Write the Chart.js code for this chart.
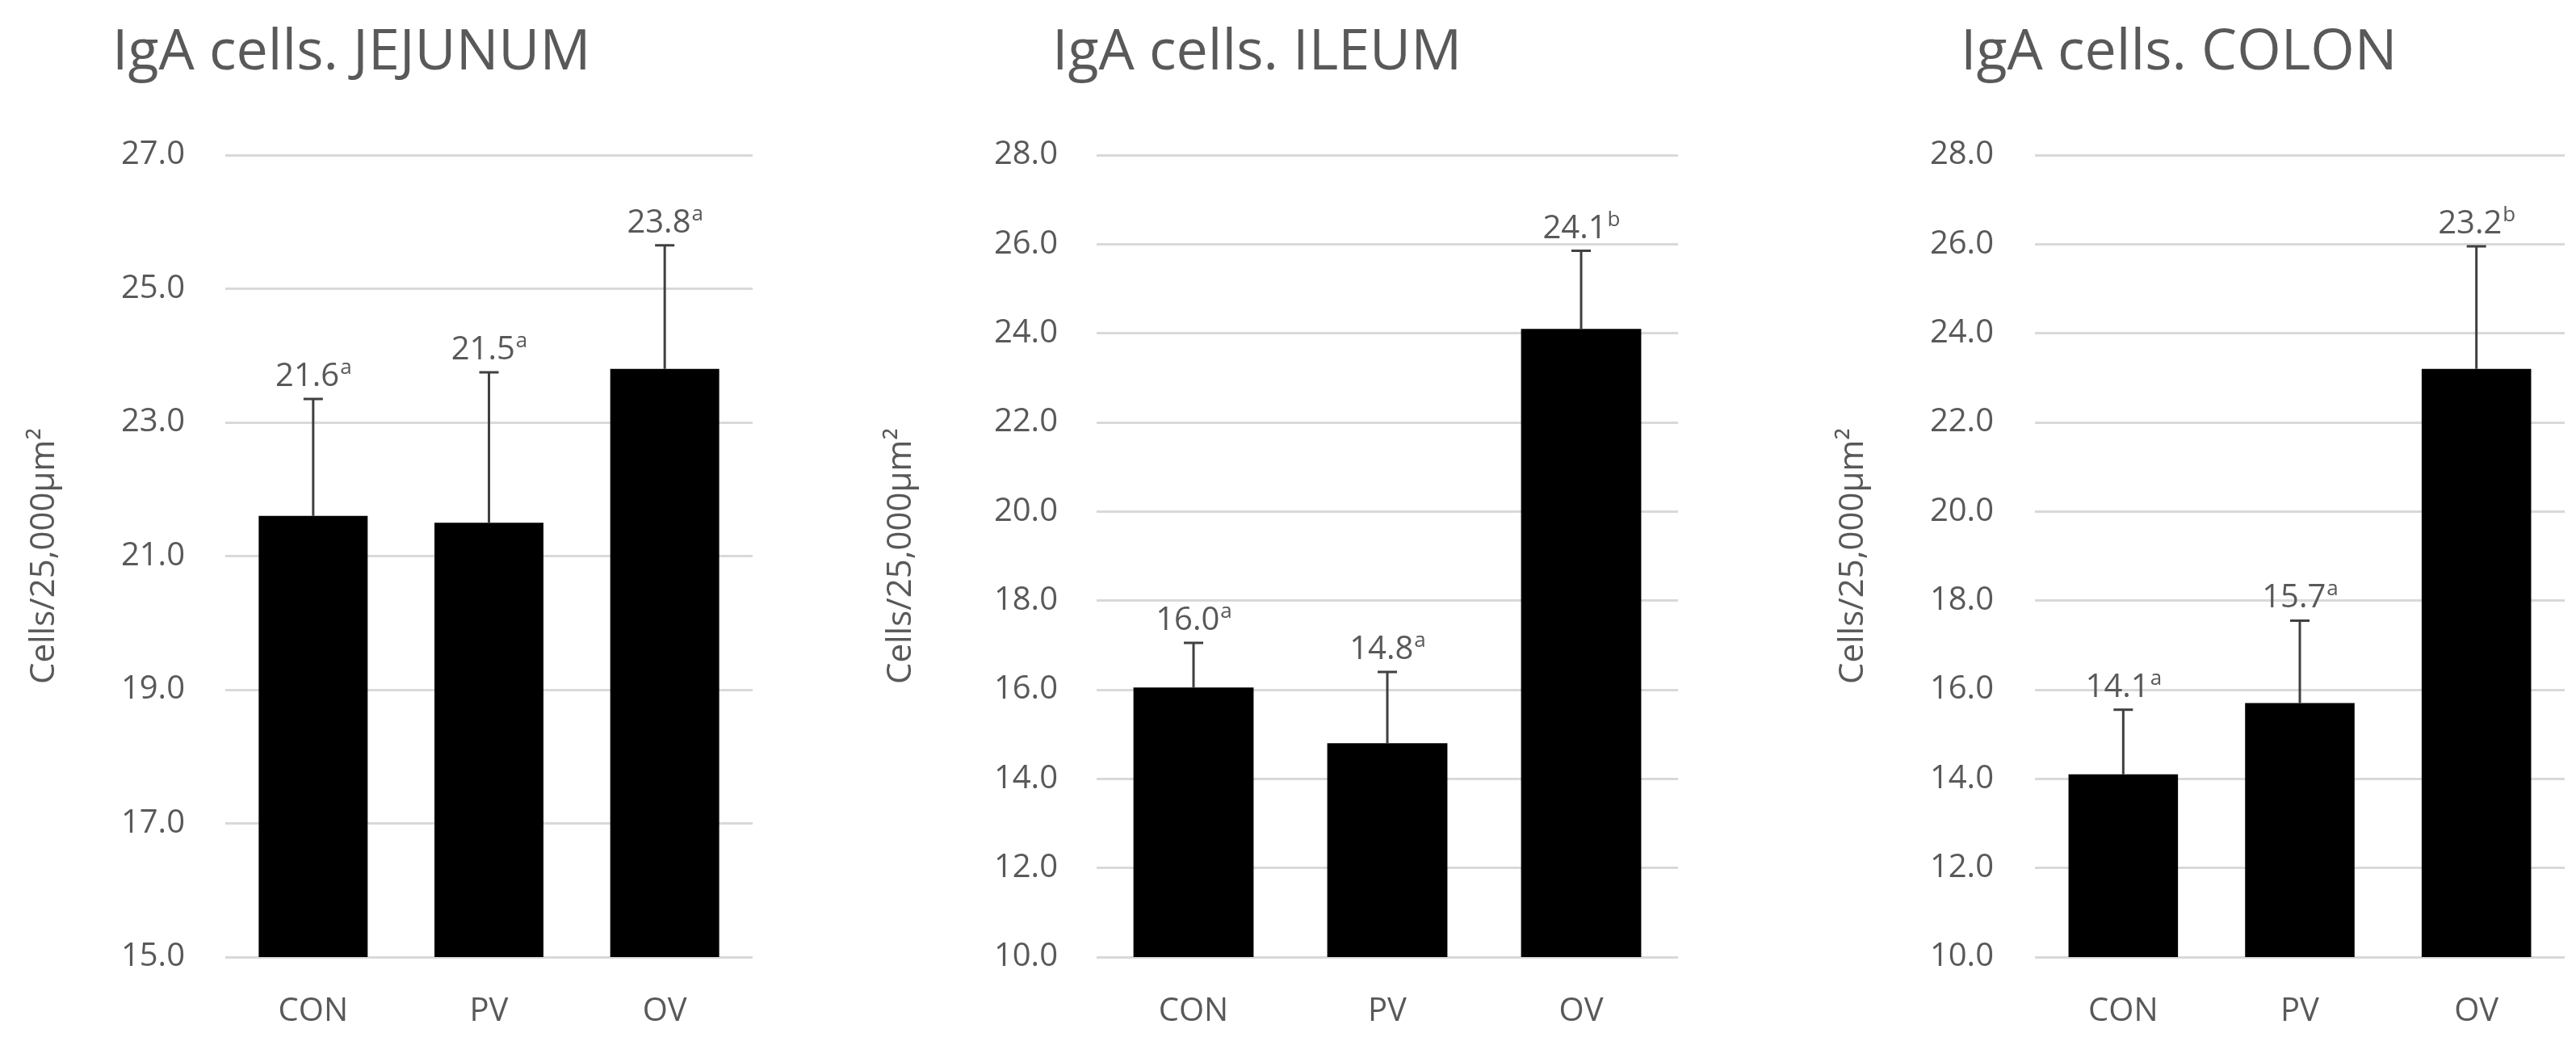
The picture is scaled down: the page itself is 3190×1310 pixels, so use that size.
<!DOCTYPE html>
<html>
<head>
<meta charset="utf-8">
<script src="https://cdn.jsdelivr.net/npm/chart.js@4.4.0/dist/chart.umd.min.js"></script>
<style>
  body { margin: 0; background: #fff; }
  #wrap { position: relative; width: 3190px; height: 1310px; }
  .box { position: absolute; top: 0; height: 1310px; }
</style>
</head>
<body>
<div id="wrap">
  <div class="box" style="left:0;width:1063px"><canvas id="c1"></canvas></div>
  <div class="box" style="left:1063px;width:1063px"><canvas id="c2"></canvas></div>
  <div class="box" style="left:2126px;width:1064px"><canvas id="c3"></canvas></div>
</div>
<script>
const groups = ['CON', 'PV', 'OV'];

const jejunumMeans = [21.6, 21.5, 23.8];
const jejunumErrTop = [23.35, 23.75, 25.65];
const jejunumLetters = ['a', 'a', 'a'];

const ileumMeans = [16.05, 14.8, 24.1];
const ileumLabels = ['16.0', '14.8', '24.1'];
const ileumErrTop = [17.05, 16.4, 25.85];
const ileumLetters = ['a', 'a', 'b'];

const colonMeans = [14.1, 15.7, 23.2];
const colonErrTop = [15.55, 17.55, 25.95];
const colonLetters = ['a', 'a', 'b'];

const gray = '#595959';
const font = '"Open Sans", "Noto Sans", sans-serif';

// error bars + value labels with superscript letter
const errorBars = {
  id: 'errorBars',
  afterDatasetsDraw(chart, args, opts) {
    const ctx = chart.ctx;
    const y = chart.scales.y;
    const meta = chart.getDatasetMeta(0);
    meta.data.forEach((bar, i) => {
      const top = y.getPixelForValue(opts.errTop[i]);
      ctx.save();
      ctx.strokeStyle = '#404040';
      ctx.lineWidth = 3;
      ctx.beginPath();
      ctx.moveTo(bar.x, bar.y);
      ctx.lineTo(bar.x, top);
      ctx.moveTo(bar.x - 12, top);
      ctx.lineTo(bar.x + 12, top);
      ctx.stroke();

      const main = opts.labels[i];
      const sup = opts.letters[i];
      ctx.fillStyle = gray;
      ctx.textBaseline = 'alphabetic';
      ctx.font = '40px ' + font;
      const w1 = ctx.measureText(main).width;
      ctx.font = '26px ' + font;
      const w2 = ctx.measureText(sup).width;
      const x0 = bar.x - (w1 + w2) / 2;
      const base = top - 16;
      ctx.font = '40px ' + font;
      ctx.fillText(main, x0, base);
      ctx.font = '26px ' + font;
      ctx.fillText(sup, x0 + w1 + 1, base - 15);
      ctx.restore();
    });
  }
};

const titlePlugin = {
  id: 'sideTitle',
  afterDraw(chart, args, opts) {
    const ctx = chart.ctx;
    ctx.save();
    ctx.fillStyle = gray;
    ctx.font = '70px ' + font;
    ctx.textBaseline = 'middle';
    ctx.fillText(opts.text, opts.x, 66);
    ctx.restore();
  }
};

function makeChart(id, cfg) {
  return new Chart(document.getElementById(id), {
    type: 'bar',
    data: {
      labels: groups,
      datasets: [{
        data: cfg.means,
        backgroundColor: '#000',
        barPercentage: 0.62,
        categoryPercentage: 1
      }]
    },
    options: {
      responsive: true,
      maintainAspectRatio: false,
      animation: false,
      layout: { padding: { left: cfg.padL, right: cfg.padR, top: 192, bottom: 35 } },
      plugins: {
        legend: { display: false },
        tooltip: { enabled: false },
        errorBars: { errTop: cfg.errTop, labels: cfg.labels, letters: cfg.letters },
        sideTitle: { text: cfg.title, x: cfg.titleX }
      },
      scales: {
        x: {
          grid: { display: false },
          border: { display: false },
          ticks: { color: gray, font: { size: 40, family: font }, padding: 36 },
          afterFit: s => { s.height = 90; }
        },
        y: {
          min: cfg.min, max: cfg.max,
          grid: { color: '#d9d9d9', lineWidth: 3, drawTicks: false },
          border: { display: false },
          ticks: {
            stepSize: 2, color: gray, padding: cfg.tickPad,
            font: { size: 40, family: font },
            callback: v => v.toFixed(1)
          },
          title: {
            display: true, text: 'Cells/25,000µm²', color: gray, padding: 0,
            font: { size: 42, family: font }
          },
          afterFit: s => { s.width = cfg.yWidth; }
        }
      }
    },
    plugins: [errorBars, titlePlugin]
  });
}

makeChart('c1', {
  means: jejunumMeans, errTop: jejunumErrTop, letters: jejunumLetters,
  labels: jejunumMeans.map(v => v.toFixed(1)),
  min: 15, max: 27, padL: 30, padR: 131, yWidth: 249, tickPad: 50,
  title: 'IgA cells. JEJUNUM', titleX: 139
});
makeChart('c2', {
  means: ileumMeans, errTop: ileumErrTop, letters: ileumLetters, labels: ileumLabels,
  min: 10, max: 28, padL: 28, padR: 48, yWidth: 267, tickPad: 48,
  title: 'IgA cells. ILEUM', titleX: 240
});
makeChart('c3', {
  means: colonMeans, errTop: colonErrTop, letters: colonLetters,
  labels: colonMeans.map(v => v.toFixed(1)),
  min: 10, max: 28, padL: 144, padR: 14, yWidth: 250, tickPad: 51,
  title: 'IgA cells. COLON', titleX: 302
});
</script>
</body>
</html>
